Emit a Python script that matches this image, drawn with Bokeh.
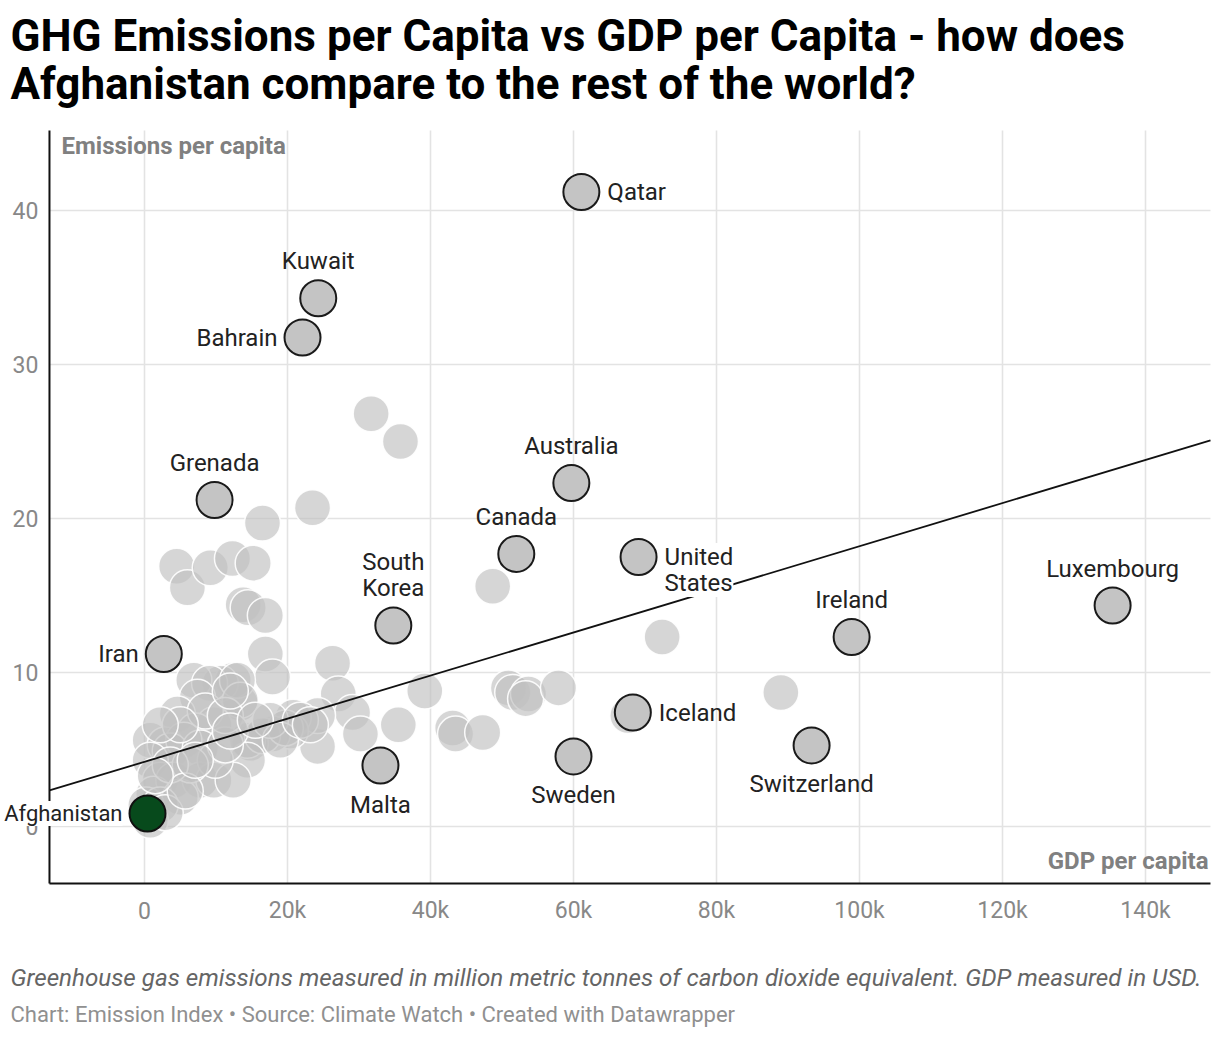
from bokeh.plotting import figure
from bokeh.models import Range1d, Label
from bokeh.embed import file_html
from bokeh.resources import INLINE

# ---------------- data ----------------
gdp_tick_values = [0, 20000, 40000, 60000, 80000, 100000, 120000, 140000]
gdp_tick_labels = ["0", "20k", "40k", "60k", "80k", "100k", "120k", "140k"]
emission_tick_values = [0, 10, 20, 30, 40]
emission_tick_labels = ["0", "10", "20", "30", "40"]

other_gdp = [31700, 35800, 23500, 16500, 4500, 6000, 9200, 12300, 15200, 13800,
             14500, 16900, 16900, 17900, 26300, 27100, 29100, 30200, 35500, 39200,
             24200, 24200, 20800, 20400, 17900, 14800, 13400, 12400, 10600, 43100,
             43500, 47300, 48700, 50900, 51500, 53700, 53300, 57900, 72400, 89000,
             67600, 6900, 9100, 13000, 7400, 13400, 4600, 9700, 7100, 800,
             2900, 5500, 3600, 7800, 14400, 16500, 19700, 14400, 800, 2200,
             4100, 7800, 9700, 12400, 1300, 5000, 200, 2200, 800, 2900,
             9900, 6400, 11300, 8500, 11300, 5000, 2200, 17600, 19000, 12000,
             3600, 5700, 1500, 7100, 12000, 15500, 21800, 23200]
other_emissions = [26.8, 25.0, 20.7, 19.7, 16.9, 15.5, 16.8, 17.4, 17.1, 14.4,
                   14.2, 13.7, 11.2, 9.7, 10.6, 8.6, 7.4, 6.0, 6.6, 8.8,
                   5.2, 7.2, 7.1, 6.2, 6.0, 5.4, 8.0, 9.5, 9.3, 6.4,
                   6.0, 6.1, 15.6, 9.0, 8.7, 8.6, 8.3, 9.0, 12.3, 8.7,
                   7.2, 9.5, 9.3, 9.5, 8.4, 8.2, 7.3, 6.6, 6.2, 5.6,
                   5.3, 5.6, 4.9, 5.1, 5.6, 5.9, 6.4, 4.3, 4.3, 3.0,
                   3.0, 3.0, 3.0, 3.0, 2.1, 1.9, 1.4, 1.4, 0.4, 0.9,
                   4.3, 4.0, 5.3, 7.5, 7.2, 6.6, 6.6, 6.9, 5.6, 8.8,
                   4.0, 2.3, 3.3, 4.3, 6.2, 6.9, 6.9, 6.6]

labeled_countries = ["Qatar", "Kuwait", "Bahrain", "Grenada", "Australia", "Canada",
                     "United States", "South Korea", "Iran", "Luxembourg", "Ireland",
                     "Iceland", "Switzerland", "Sweden", "Malta"]
labeled_gdp = [61100, 24300, 22100, 9800, 59700, 52000, 69100, 34800, 2700,
               135400, 98900, 68300, 93300, 60000, 33000]
labeled_emissions = [41.2, 34.3, 31.75, 21.2, 22.3, 17.7, 17.5, 13.05, 11.2,
                     14.35, 12.3, 7.4, 5.26, 4.55, 3.96]
label_placement = ["right", "above", "left", "above", "above", "above", "right2",
                   "above2", "left", "above", "above", "right", "below", "below", "below"]

focus_country = "Afghanistan"
focus_gdp = [420]
focus_emissions = [0.84]

trend_intercept = 4.2
trend_slope = 0.00014  # tonnes per USD

title_lines = ["GHG Emissions per Capita vs GDP per Capita - how does",
               "Afghanistan compare to the rest of the world?"]
notes_line = "Greenhouse gas emissions measured in million metric tonnes of carbon dioxide equivalent. GDP measured in USD."
source_line = "Chart: Emission Index \u2022 Source: Climate Watch \u2022 Created with Datawrapper"
y_axis_title = "Emissions per capita"
x_axis_title = "GDP per capita"

# ---------------- layout ----------------
FONT = "Roboto"
W, H = 1220, 1030
# canvas extent in data units (whole canvas is the frame)
X_LEFT, X_RIGHT = -20140, 150490
Y_BOTTOM, Y_TOP = -13.247, 53.636
# plot area in data units
PX0, PX1 = -13290, 149090
PY0, PY1 = -3.70, 45.19

p = figure(width=W, height=H, output_backend="svg", toolbar_location=None,
           x_range=Range1d(X_LEFT, X_RIGHT), y_range=Range1d(Y_BOTTOM, Y_TOP),
           x_axis_location=None, y_axis_location=None, min_border=0)
p.outline_line_color = None
p.background_fill_color = "white"
p.border_fill_color = "white"
p.grid.visible = False

# grid lines
p.segment(x0=gdp_tick_values, y0=[PY0] * len(gdp_tick_values),
          x1=gdp_tick_values, y1=[PY1] * len(gdp_tick_values),
          line_color="#e3e3e3", line_width=1.6)
p.segment(x0=[PX0] * len(emission_tick_values), y0=emission_tick_values,
          x1=[PX1] * len(emission_tick_values), y1=emission_tick_values,
          line_color="#e3e3e3", line_width=1.6)

# background countries
p.scatter(other_gdp, other_emissions, size=36, fill_color="#c0c0c0", fill_alpha=0.65,
          line_color="white", line_width=1.5, line_alpha=0.9)

# trend line
tx = [PX0, PX1]
ty = [trend_intercept + trend_slope * v for v in tx]
p.line(tx, ty, line_color="#111111", line_width=1.8)

# axis lines
p.segment(x0=[PX0, PX0], y0=[PY0, PY0], x1=[PX0, PX1], y1=[PY1, PY0],
          line_color="#111111", line_width=2)

# labeled countries
p.scatter(labeled_gdp, labeled_emissions, size=36, fill_color="#c4c4c4",
          line_color="#1a1a1a", line_width=2)
p.scatter(focus_gdp, focus_emissions, size=36, fill_color="#074a1c",
          line_color="#111111", line_width=2)

# tick labels
for v, t in zip(gdp_tick_values, gdp_tick_labels):
    p.add_layout(Label(x=v, y=PY0, text=t, y_offset=-27, text_align="center",
                       text_baseline="middle", text_font=FONT,
                       text_font_size="23px", text_color="#888888"))
for v, t in zip(emission_tick_values, emission_tick_labels):
    p.add_layout(Label(x=PX0, y=v, text=t, x_offset=-11, y_offset=0, text_align="right",
                       text_baseline="middle", text_font=FONT,
                       text_font_size="23px", text_color="#888888"))


def add_label(text, x, y, place, bg=False, size="24px"):
    kw = dict(x=x, y=y, text=text, text_font=FONT, text_font_size=size,
              text_color="#222222", text_baseline="middle")
    if place == "right":
        kw.update(x_offset=26, y_offset=0, text_align="left")
    elif place == "right2":
        kw.update(x_offset=26, y_offset=-13, text_align="left", text_line_height=0.93)
    elif place == "left":
        kw.update(x_offset=-25, y_offset=0, text_align="right")
    elif place == "above":
        kw.update(x_offset=0, y_offset=37, text_align="center")
    elif place == "above2":
        kw.update(x_offset=0, y_offset=51, text_align="center", text_line_height=0.93)
    elif place == "below":
        kw.update(x_offset=0, y_offset=-39, text_align="center")
    if bg:
        kw.update(background_fill_color="white", background_fill_alpha=1.0)
    p.add_layout(Label(**kw))


for name, gx, ey, place in zip(labeled_countries, labeled_gdp, labeled_emissions, label_placement):
    add_label(name.replace(" ", "\n") if place.endswith("2") else name, gx, ey, place,
              bg=(name == "United States"))
add_label(focus_country, focus_gdp[0], focus_emissions[0], "left", bg=True, size="22px")


def screen_text(text, x, y_from_top, size, style="normal", color="#000000", align="left"):
    p.add_layout(Label(x=x, y=H - y_from_top, x_units="screen", y_units="screen", text=text,
                       text_font=FONT, text_font_size=size, text_font_style=style,
                       text_color=color, text_baseline="middle", text_align=align))


# axis titles inside plot
screen_text(y_axis_title, 61, 145, "24px", "bold", "#808080")
screen_text(x_axis_title, 1208, 860, "24px", "bold", "#808080", align="right")

# title
screen_text(title_lines[0], 10, 35, "44px", "bold", "#000000")
screen_text(title_lines[1], 10, 83, "44px", "bold", "#000000")

# footer
screen_text(notes_line, 10, 977, "24.2px", "italic", "#656565")
screen_text(source_line, 10, 1014, "22px", "normal", "#909090")

open("out.html", "w").write(file_html(p, INLINE))
